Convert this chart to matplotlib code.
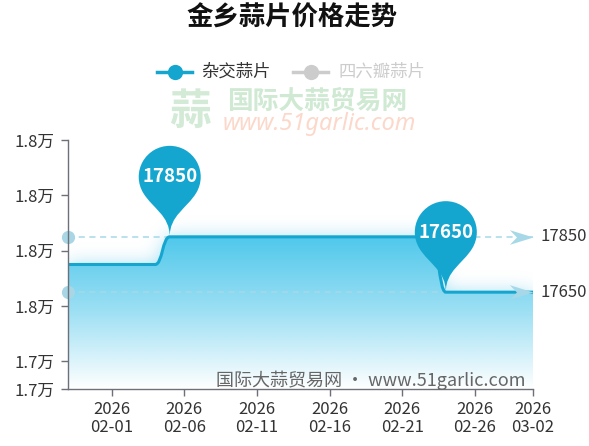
import numpy as np
import pandas as pd
import matplotlib
matplotlib.use('Agg')
import matplotlib.pyplot as plt
import matplotlib.dates as mdates
import matplotlib.transforms as mtransforms
from matplotlib.path import Path
from matplotlib.patches import PathPatch
from matplotlib.lines import Line2D
from matplotlib.colors import LinearSegmentedColormap, to_rgb
from matplotlib.ticker import FuncFormatter

plt.rcParams['font.family'] = ['Noto Sans CJK SC', 'DejaVu Sans']

# data
title = '金乡蒜片价格走势'
series_names = ['杂交蒜片', '四六瓣蒜片']
dates = ['2026-01-29', '2026-02-04', '2026-02-05', '2026-02-23', '2026-02-24', '2026-03-02']
prices = [17750, 17750, 17850, 17850, 17650, 17650]
xtick_dates = ['2026-02-01', '2026-02-06', '2026-02-11', '2026-02-16',
               '2026-02-21', '2026-02-26', '2026-03-02']
yticks = [17300, 17400, 17600, 17800, 18000, 18200]
y_min, y_max = 17300, 18200

BLUE = '#15a6d0'
MARK = '#a6d8e7'
AXIS = '#6e7079'
TXT = '#333333'

W, H = 589, 446
AX_W, AX_H = 465, 249
fig = plt.figure(figsize=(W / 100, H / 100), dpi=100)
ax = fig.add_axes([68 / W, 1 - 389 / H, AX_W / W, AX_H / H])

x = mdates.date2num(pd.to_datetime(dates))
y = np.array(prices, dtype=float)
x0, x1 = x[0], x[-1]

# smoothed line path (bezier between the data points)
verts = [(x[0], y[0])]
codes = [Path.MOVETO]
for i in range(1, len(x)):
    d = (x[i] - x[i - 1]) * 0.5
    verts += [(x[i - 1] + d, y[i - 1]), (x[i] - d, y[i]), (x[i], y[i])]
    codes += [Path.CURVE4] * 3
line_path = Path(verts, codes)
area_path = Path(verts + [(x1, y_min), (x0, y_min), (x0, y[0])],
                 codes + [Path.LINETO, Path.LINETO, Path.CLOSEPOLY])

# soft glow: blurred mask of the area
poly = Path(area_path.to_polygons()[0])
gx = x0 + (np.arange(AX_W) + 0.5) / AX_W * (x1 - x0)
gy = y_min + (np.arange(AX_H) + 0.5) / AX_H * (y_max - y_min)
GX, GY = np.meshgrid(gx, gy)
mask = poly.contains_points(np.c_[GX.ravel(), GY.ravel()]).reshape(AX_H, AX_W).astype(float)
sig = 9.0
k = np.exp(-0.5 * (np.arange(-30, 31) / sig) ** 2)
k /= k.sum()
blur = np.apply_along_axis(lambda r: np.convolve(r, k, mode='same'), 1, mask)
blur = np.apply_along_axis(lambda c: np.convolve(c, k, mode='same'), 0, blur)
glow = np.zeros((AX_H, AX_W, 4))
glow[..., :3] = to_rgb('#55c6ea')
glow[..., 3] = np.clip(blur, 0, 1) * 0.55
ax.imshow(glow, extent=[x0, x1, y_min, y_max], origin='lower', aspect='auto', zorder=1)

# gradient area
cmap = LinearSegmentedColormap.from_list('g', ['#ffffff', '#9fe0f4', '#4fc8eb'])
clip = PathPatch(area_path, facecolor='none', edgecolor='none', transform=ax.transData)
ax.add_patch(clip)
grad = np.linspace(1, 0, 256).reshape(-1, 1)
im = ax.imshow(grad, extent=[x0, x1, y_min, y.max()], aspect='auto', cmap=cmap,
               origin='upper', zorder=2, interpolation='bicubic')
im.set_clip_path(clip)

ax.add_patch(PathPatch(line_path, fill=False, lw=2.2, edgecolor=BLUE, zorder=4))

# mark lines
arrow = Path([(-2, 0.62), (0, 0), (-2, -0.62), (-1.4, 0), (-2, 0.62)],
             [Path.MOVETO, Path.LINETO, Path.LINETO, Path.LINETO, Path.CLOSEPOLY])
for v in [y.max(), y.min()]:
    ax.plot([x0, x1], [v, v], ls=(0, (4, 3)), color=MARK, lw=1.1, zorder=3)
    ax.plot(x0, v, 'o', ms=9.5, color='#a9d6e4', mec='none', clip_on=False, zorder=5)
    ax.plot(x1, v, marker=arrow, ms=34, color=MARK, mec='none', clip_on=False, zorder=5)
    ax.annotate(f'{int(v)}', xy=(x1, v), xytext=(7, 0), textcoords='offset pixels',
                ha='left', va='center', fontsize=12, color=TXT, annotation_clip=False)


# pins for max / min
def pin_path(r=31.0, h=60.0):
    dy = r * r / h
    a = np.arcsin(dy / r)
    dx = np.cos(a) * r
    arc = Path.arc(-np.degrees(a), 180 + np.degrees(a))
    v = arc.vertices * r + [0, h]
    c = list(arc.codes)
    cp1, cp2 = r * 0.6, r * 0.7
    tx, ty = np.sin(a), np.cos(a)
    more_v = [(-dx + tx * cp1, h - dy - ty * cp1), (0, cp2), (0, 0),
              (0, cp2), (dx - tx * cp1, h - dy - ty * cp1), (dx, h - dy), (0, 0)]
    more_c = [Path.CURVE4] * 6 + [Path.CLOSEPOLY]
    return Path(np.vstack([v, more_v]) / 100.0, c + more_c)


pin = pin_path()
for idx in [int(np.argmax(y)), int(np.argmin(y))]:
    tr = fig.dpi_scale_trans + mtransforms.ScaledTranslation(x[idx], y[idx], ax.transData)
    ax.add_patch(PathPatch(pin, facecolor=BLUE, edgecolor='none', transform=tr,
                           zorder=6, clip_on=False))
    ax.annotate(f'{int(y[idx])}', xy=(x[idx], y[idx]), xytext=(0, 60),
                textcoords='offset pixels', ha='center', va='center', fontsize=13.5,
                fontweight='bold', color='white', zorder=7, annotation_clip=False)

# axes
ax.set_xlim(x0, x1)
ax.set_ylim(y_min, y_max)
for s in ['top', 'right']:
    ax.spines[s].set_visible(False)
for s in ['left', 'bottom']:
    ax.spines[s].set_color(AXIS)
    ax.spines[s].set_linewidth(1)
    ax.spines[s].set_zorder(6)
ax.set_yticks(yticks)
ax.yaxis.set_major_formatter(FuncFormatter(lambda v, p: f'{v / 10000:.1f}万'))
xt = mdates.date2num(pd.to_datetime(xtick_dates))
ax.set_xticks(xt)
ax.set_xticklabels([d[:4] + '\n' + d[5:] for d in xtick_dates], linespacing=1.0)
ax.tick_params(axis='both', colors=AXIS, labelcolor=TXT, labelsize=12, length=5, width=1)
ax.tick_params(axis='x', pad=4)
ax.tick_params(axis='y', pad=5)

# title and legend
fig.text(292 / W, 1 - 18 / H, title, ha='center', va='center', fontsize=19,
         fontweight='bold', color='#111111')
for (lx0, lx1, tx, name, col, tcol) in [(157, 192, 201, series_names[0], BLUE, TXT),
                                         (293, 328, 338, series_names[1], '#cccccc', '#cccccc')]:
    ly = 1 - 72 / H
    fig.add_artist(Line2D([lx0 / W, lx1 / W], [ly, ly], color=col, lw=2.5,
                          transform=fig.transFigure))
    fig.add_artist(Line2D([(lx0 + lx1) / 2 / W], [ly], marker='o', ms=11, color=col,
                          mec='none', transform=fig.transFigure))
    fig.text(tx / W, ly, name, ha='left', va='center', fontsize=12.5, color=tcol)

# watermarks
fig.text(190 / W, 1 - 112 / H, '蒜', ha='center', va='center', fontsize=30,
         fontweight='bold', color='#d3ebd6', zorder=0)
fig.text(227 / W, 1 - 101 / H, '国际大蒜贸易网', ha='left', va='center', fontsize=18.5,
         fontweight='bold', color='#cfe9d3', zorder=0)
fig.text(223 / W, 1 - 124 / H, 'www.51garlic.com', ha='left', va='center', fontsize=17,
         style='italic', color='#fcd8ca', zorder=0, family='Noto Sans')
fig.text(525 / W, 1 - 380 / H, '国际大蒜贸易网 • www.51garlic.com', ha='right',
         va='center', fontsize=13, color='#666666', zorder=8)

fig.savefig('out.png', dpi=100)
